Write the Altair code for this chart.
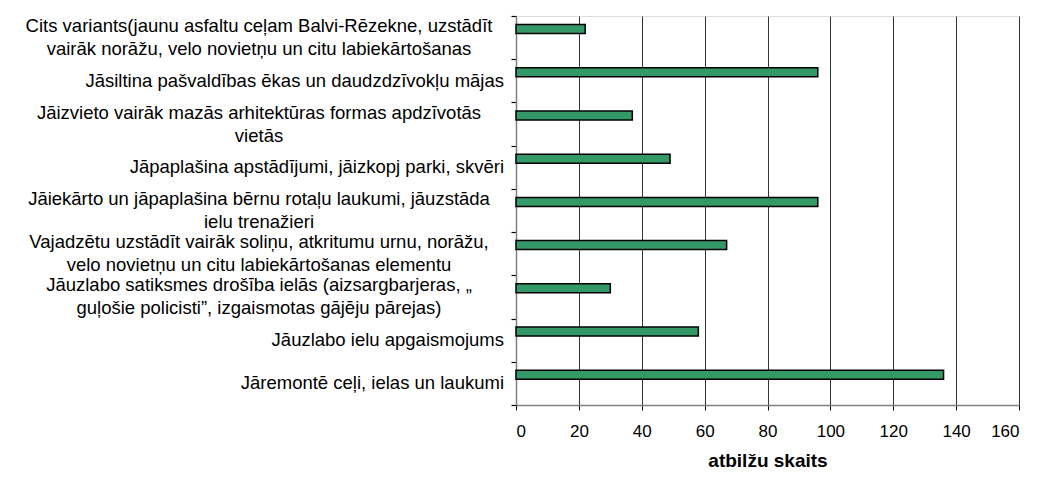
import altair as alt
import pandas as pd

categories = [
    "Cits variants(jaunu asfaltu ceļam Balvi-Rēzekne, uzstādīt\nvairāk  norāžu,  velo novietņu un citu labiekārtošanas",
    "Jāsiltina pašvaldības ēkas un daudzdzīvokļu mājas",
    "Jāizvieto vairāk mazās arhitektūras formas apdzīvotās\nvietās",
    "Jāpaplašina  apstādījumi, jāizkopj parki, skvēri",
    "Jāiekārto un jāpaplašina bērnu rotaļu laukumi, jāuzstāda\nielu trenažieri",
    "Vajadzētu uzstādīt vairāk soliņu, atkritumu urnu, norāžu,\nvelo novietņu un citu labiekārtošanas elementu",
    "Jāuzlabo satiksmes drošība ielās (aizsargbarjeras, „\nguļošie policisti”, izgaismotas gājēju pārejas)",
    "Jāuzlabo ielu apgaismojums",
    "Jāremontē ceļi, ielas un laukumi",
]
values = [22, 96, 37, 49, 96, 67, 30, 58, 136]
x_ticks = [0, 20, 40, 60, 80, 100, 120, 140, 160]
x_title = "atbilžu skaits"

df = pd.DataFrame({"cat": categories, "value": values})
df["lines"] = df["cat"].str.count("\n") + 1

FONT = "Liberation Sans"
LABEL_SIZE = 18.5
LINE_H = 23

y_scale = alt.Scale(paddingInner=0, paddingOuter=0)
y_axis = alt.Axis(
    labelExpr="''", title=None, tickBand="extent", ticks=True, tickSize=5,
    tickWidth=1.2, tickColor="#000000",
    domain=True, domainColor="#808080", domainWidth=1.5, grid=False,
)
y_enc = alt.Y("cat:N", sort=categories, scale=y_scale, axis=y_axis)

bars = alt.Chart(df).mark_bar(
    height=9, yOffset=-8.6, color="#339966", stroke="#000000", strokeWidth=1.5
).encode(
    x=alt.X(
        "value:Q",
        scale=alt.Scale(domain=[0, 160], nice=False),
        axis=alt.Axis(
            values=x_ticks, grid=True, gridColor="#333333", gridWidth=1,
            ticks=True, tickSize=5, tickColor="#000000",
            domainColor="#808080", domainWidth=1.5,
            labelFont=FONT, labelFontSize=17, labelColor="#000000", labelPadding=13,
            title=x_title, titleFont=FONT, titleFontSize=19, titleFontWeight="bold",
            titleColor="#000000", titlePadding=12,
        ),
    ),
    y=y_enc,
)

single = alt.Chart(df).transform_filter("datum.lines == 1").mark_text(
    align="right", baseline="middle", font=FONT, fontSize=LABEL_SIZE, color="#000000"
).encode(
    x=alt.value(-12),
    y=y_enc,
    text="cat:N",
)

multi = alt.Chart(df).transform_filter("datum.lines > 1").mark_text(
    align="center", baseline="middle", lineBreak="\n", lineHeight=LINE_H,
    dy=-LINE_H / 2, font=FONT, fontSize=LABEL_SIZE, color="#000000"
).encode(
    x=alt.value(-257),
    y=y_enc,
    text="cat:N",
)

chart = alt.layer(bars, single, multi).properties(
    width=503, height=389,
    autosize=alt.AutoSizeParams(type="none"),
    padding={"left": 508, "top": 8, "right": 10, "bottom": 80},
).configure_view(stroke="#8c8c8c", strokeWidth=1.5).configure(background="white")

chart.save("out.html", embed_options={"renderer": "svg", "actions": False})
